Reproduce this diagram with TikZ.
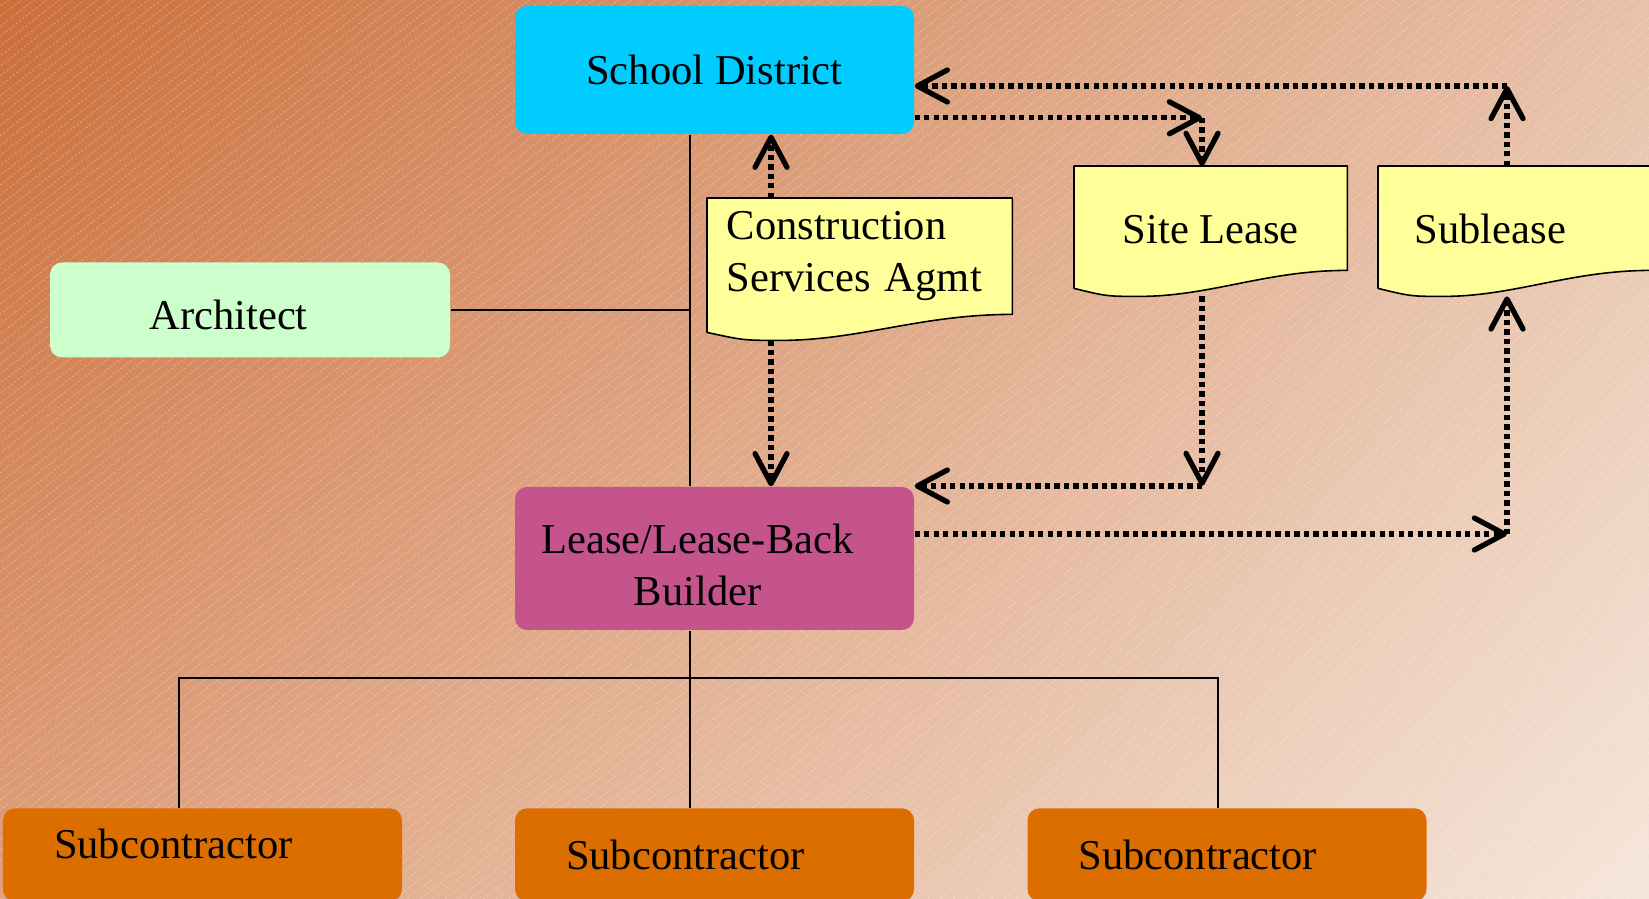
\documentclass[tikz,border=0pt]{standalone}
\usepackage{fontspec}
\setmainfont{Liberation Serif}
\usetikzlibrary{arrows.meta,calc,shadings}

\definecolor{districtblue}{HTML}{00CCFF}
\definecolor{archgreen}{HTML}{CCFFCC}
\definecolor{builderpink}{HTML}{C5548D}
\definecolor{suborange}{HTML}{DC6E00}
\definecolor{paperyellow}{HTML}{FFFF99}
\definecolor{bgUL}{RGB}{203,110,58}
\definecolor{bgUR}{RGB}{231,193,168}
\definecolor{bgLL}{RGB}{222,160,125}
\definecolor{bgLR}{RGB}{245,230,218}

\pgfdeclarelayer{back}
\pgfsetlayers{back,main}

\tikzset{
  box/.style={rectangle, rounded corners=1.2mm, minimum width=3.99cm,
    font=\fontsize{12.1}{14.8}\selectfont},
  subbox/.style={box, fill=suborange, anchor=north, minimum height=0.93cm,
    text width=2.97cm, inner xsep=0.51cm, align=left},
  paper/.style={rectangle, anchor=north west, inner ysep=0pt,
    font=\fontsize{12.1}{14.8}\selectfont},
  tree/.style={line width=0.6pt},
  flow/.style={line width=1.5pt, dash pattern=on 1.5pt off 1.2pt,
    -{Straight Barb[length=3mm,width=3.2mm,round]}},
  stripe/.style={white, opacity=0.3, line width=0.25pt, dash pattern=on 0.6pt off 0.6pt}
}

% yellow sheet with a wavy lower edge under a node
\newcommand{\docsheet}[1]{%
  \filldraw[fill=paperyellow, draw=black, line width=0.45pt, line join=round]
    ($(#1.south west)+(0,-0.18)$) -- (#1.north west) -- (#1.north east) -- (#1.south east)
    .. controls ($(#1.south east)!0.3!(#1.south west)$) and ($(#1.south east)!0.5!(#1.south west)+(0,-0.26)$)
    .. ($(#1.south east)!0.76!(#1.south west)+(0,-0.26)$) coordinate (#1-foot)
    .. controls ($(#1.south east)!0.88!(#1.south west)+(0,-0.26)$)
    .. ($(#1.south west)+(0,-0.18)$) -- cycle;}

\begin{document}
\begin{tikzpicture}
  \useasboundingbox (0,0) rectangle (16.49,-8.99);
  \begin{pgfonlayer}{back}
    \shade[upper left=bgUL, upper right=bgUR, lower left=bgLL, lower right=bgLR]
      (0,0) rectangle (16.49,-8.99);
    \begin{scope}
      \clip (0,0) rectangle (16.49,-8.99);
      \foreach \i in {0,...,245}
        \draw[stripe] ({\i*0.127-13.2},-8.99) -- ++(38:16);
    \end{scope}
  \end{pgfonlayer}

  % parties
  \node[box, fill=districtblue, minimum height=1.28cm] (sd) at (7.145,-0.70) {School District};
  \node[box, fill=archgreen, minimum width=4cm, minimum height=0.95cm,
    text width=2.01cm, inner xsep=0.995cm, align=left, text height=3.9mm, text depth=0pt]
    (arch) at (2.50,-3.10) {Architect};
  \node[box, fill=builderpink, minimum height=1.43cm,
    label={[name=llb-label, align=center, xshift=-1.7mm, yshift=-0.6mm,
      font=\fontsize{12.1}{14.8}\selectfont]center:Lease/Lease-Back\\Builder}]
    (llb) at (7.145,-5.585) {};
  \node[subbox, text depth=2.3mm] (sub1) at (2.025,-8.076) {Subcontractor};
  \node[subbox] (sub2) at (7.145,-8.076) {Subcontractor};
  \node[subbox] (sub3) at (12.27,-8.076) {Subcontractor};

  % agreements
  \node[paper, minimum width=3.04cm, minimum height=1.15cm, text width=2.66cm,
    inner xsep=0.19cm, align=left] (csa) at (7.07,-1.98) {Construction\\Services Agmt};
  \node[paper, minimum width=2.72cm, minimum height=1.03cm, text height=5.1mm,
    text depth=0pt] (site) at (10.74,-1.66) {Site Lease};
  \node[paper, minimum width=2.72cm, minimum height=1.03cm, text width=2.0cm,
    inner xsep=0.36cm, align=left, text height=5.1mm, text depth=0pt] (subl) at (13.78,-1.66) {Sublease};
  \begin{pgfonlayer}{back}
    \docsheet{csa}
    \docsheet{site}
    \docsheet{subl}
  \end{pgfonlayer}

  % organisation lines
  \coordinate (trunk) at (6.90,0);
  \coordinate (busL) at (1.79,-6.78);
  \coordinate (busR) at (12.18,-6.78);
  \draw[tree] (sd.south -| trunk) -- (llb.north -| trunk);
  \draw[tree] (arch.east) -- (arch.east -| trunk);
  \draw[tree] (llb.south -| trunk) -- (sub2.north -| trunk);
  \draw[tree] (sub1.north -| busL) -- (busL) -- (busR) -- (sub3.north -| busR);

  % contract flows
  \coordinate (csaX) at (7.71,0);
  \coordinate (cUp) at (15.07,-0.86);
  \coordinate (cSite) at (12.02,-1.178);
  \coordinate (cBack) at (12.02,-4.86);
  \coordinate (cSub) at (15.07,-5.34);
  \draw[flow] (subl.north -| cUp) -- (cUp);
  \draw[flow] (cUp) -- (sd.east |- cUp);
  \draw[flow] (sd.east |- cSite) -- (cSite);
  \draw[flow] (cSite) -- (site.north -| cSite);
  \draw[flow] (csa.north -| csaX) -- (sd.south -| csaX);
  \draw[flow] (csa-foot -| csaX) -- (llb.north -| csaX);
  \draw[flow] (site-foot -| cSite) -- (cBack);
  \draw[flow] (cBack) -- (llb.east |- cBack);
  \draw[flow] (llb.east |- cSub) -- (cSub);
  \draw[flow] (cSub) -- (subl-foot -| cSub);
\end{tikzpicture}
\end{document}
